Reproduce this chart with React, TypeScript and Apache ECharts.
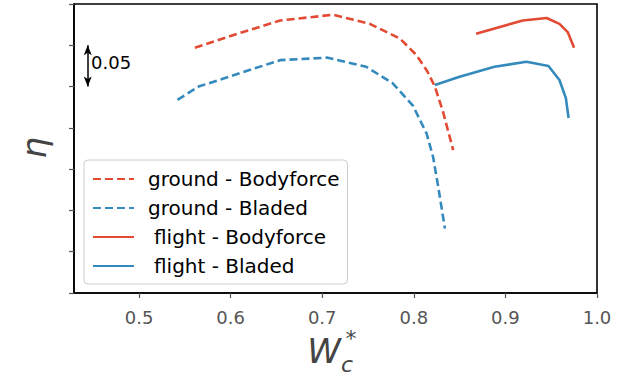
import React, { useEffect, useRef } from "react";
import * as echarts from "echarts";

const groundBodyforceX = [0.561, 0.599, 0.654, 0.712, 0.752, 0.785, 0.803, 0.815, 0.823, 0.832, 0.843];
const groundBodyforceY = [0.797, 0.811, 0.830, 0.837, 0.826, 0.808, 0.788, 0.768, 0.750, 0.719, 0.673];

const groundBladedX = [0.542, 0.565, 0.654, 0.706, 0.748, 0.777, 0.799, 0.814, 0.821, 0.826, 0.834];
const groundBladedY = [0.734, 0.750, 0.782, 0.785, 0.774, 0.754, 0.727, 0.693, 0.665, 0.633, 0.578];

const flightBodyforceX = [0.868, 0.919, 0.945, 0.959, 0.968, 0.975];
const flightBodyforceY = [0.814, 0.830, 0.833, 0.826, 0.816, 0.797];

const flightBladedX = [0.823, 0.850, 0.888, 0.923, 0.947, 0.959, 0.966, 0.969];
const flightBladedY = [0.752, 0.762, 0.774, 0.780, 0.775, 0.758, 0.736, 0.712];

const xTicks = [0.5, 0.6, 0.7, 0.8, 0.9, 1.0];
const xTickLabels = ["0.5", "0.6", "0.7", "0.8", "0.9", "1.0"];

const scaleBarX = 0.444;
const scaleBarY = [0.8, 0.75];
const scaleBarLabel = "0.05";

const RED = "#E24A33";
const BLUE = "#348ABD";

const zip = (xs: number[], ys: number[]) => xs.map((x, i) => [x, ys[i]]);

export default function App() {
  const ref = useRef<HTMLDivElement>(null);
  useEffect(() => {
    document.body.style.margin = "0";
    const chart = echarts.init(ref.current!, null, { renderer: "svg" });
    const lineSeries = (name: string, xs: number[], ys: number[], color: string, dashed: boolean) => ({
      name,
      type: "line",
      data: zip(xs, ys),
      symbol: "none",
      showSymbol: false,
      smooth: false,
      lineStyle: { color, width: 2.6, type: dashed ? [8, 4] : "solid" },
      itemStyle: { color },
    });
    chart.setOption({
      animation: false,
      grid: {
        left: 74,
        top: 4,
        right: 37,
        bottom: 86,
        show: true,
        borderColor: "#000",
        borderWidth: 1.6,
        backgroundColor: "#fff",
      },
      xAxis: {
        type: "value",
        min: 0.429,
        max: 1.0,
        splitLine: { show: false },
        axisLine: { lineStyle: { color: "#000", width: 1.6 } },
        axisTick: { show: true, length: 5, customValues: xTicks, lineStyle: { color: "#555", width: 1.2 } },
        axisLabel: {
          customValues: xTicks,
          formatter: (v: number) => xTickLabels[xTicks.findIndex((t) => Math.abs(t - v) < 1e-6)] ?? "",
          color: "#555",
          fontSize: 18,
          fontFamily: "DejaVu Sans",
          margin: 15,
        },
      },
      yAxis: {
        type: "value",
        min: 0.5,
        max: 0.85,
        interval: 0.05,
        splitLine: { show: false },
        axisLine: { lineStyle: { color: "#000", width: 1.6 } },
        axisTick: { show: true, length: 5, lineStyle: { color: "#555", width: 1.2 } },
        axisLabel: { show: false },
      },
      legend: {
        orient: "vertical",
        left: 84,
        top: 160,
        padding: [9, 8, 8, 8],
        itemWidth: 41,
        itemHeight: 14,
        itemGap: 9,
        borderColor: "#ccc",
        borderWidth: 1,
        borderRadius: 4,
        backgroundColor: "rgba(255,255,255,0.8)",
        itemStyle: { opacity: 0 },
        textStyle: {
          fontSize: 20,
          fontFamily: "DejaVu Sans",
          color: "#000",
          rich: {
            g: { fontSize: 20, fontFamily: "DejaVu Sans", color: "#000", padding: [0, 0, 0, 9] },
            f: { fontSize: 20, fontFamily: "DejaVu Sans", color: "#000", padding: [0, 0, 0, 15] },
          },
        },
        formatter: (name: string) => (name.startsWith("flight") ? `{f|${name}}` : `{g|${name}}`),
        data: ["ground - Bodyforce", "ground - Bladed", "flight - Bodyforce", "flight - Bladed"],
      },
      series: [
        lineSeries("ground - Bodyforce", groundBodyforceX, groundBodyforceY, RED, true),
        lineSeries("ground - Bladed", groundBladedX, groundBladedY, BLUE, true),
        lineSeries("flight - Bodyforce", flightBodyforceX, flightBodyforceY, RED, false),
        lineSeries("flight - Bladed", flightBladedX, flightBladedY, BLUE, false),
        {
          name: "scalebar",
          type: "line",
          data: [],
          silent: true,
          markLine: {
            silent: true,
            symbol: ["arrow", "arrow"],
            symbolSize: [6, 10],
            label: { show: false },
            lineStyle: { color: "#000", width: 1.5, type: "solid" },
            data: [[{ coord: [scaleBarX, scaleBarY[0]] }, { coord: [scaleBarX, scaleBarY[1]] }]],
          },
        },
      ],
      graphic: [
        {
          type: "text",
          left: 91,
          top: 53,
          style: { text: scaleBarLabel, fontSize: 18, fontFamily: "DejaVu Sans", fill: "#000" },
        },
        {
          type: "text",
          x: 34,
          y: 148,
          rotation: Math.PI / 2,
          style: {
            text: "η",
            fontSize: 34,
            fontStyle: "italic",
            fontFamily: "DejaVu Sans",
            fill: "#444",
            align: "center",
            verticalAlign: "middle",
          },
        },
        {
          type: "text",
          x: 324,
          y: 351,
          style: {
            text: "W",
            fontSize: 34,
            fontStyle: "italic",
            fontFamily: "DejaVu Sans",
            fill: "#444",
            align: "center",
            verticalAlign: "middle",
          },
        },
        {
          type: "text",
          x: 347,
          y: 364,
          style: {
            text: "c",
            fontSize: 22,
            fontStyle: "italic",
            fontFamily: "DejaVu Sans",
            fill: "#444",
            align: "center",
            verticalAlign: "middle",
          },
        },
        {
          type: "text",
          x: 351,
          y: 338,
          style: {
            text: "*",
            fontSize: 22,
            fontFamily: "DejaVu Sans",
            fill: "#444",
            align: "center",
            verticalAlign: "middle",
          },
        },
      ],
    });
    return () => chart.dispose();
  }, []);
  return <div ref={ref} style={{ width: 634, height: 379 }} />;
}
